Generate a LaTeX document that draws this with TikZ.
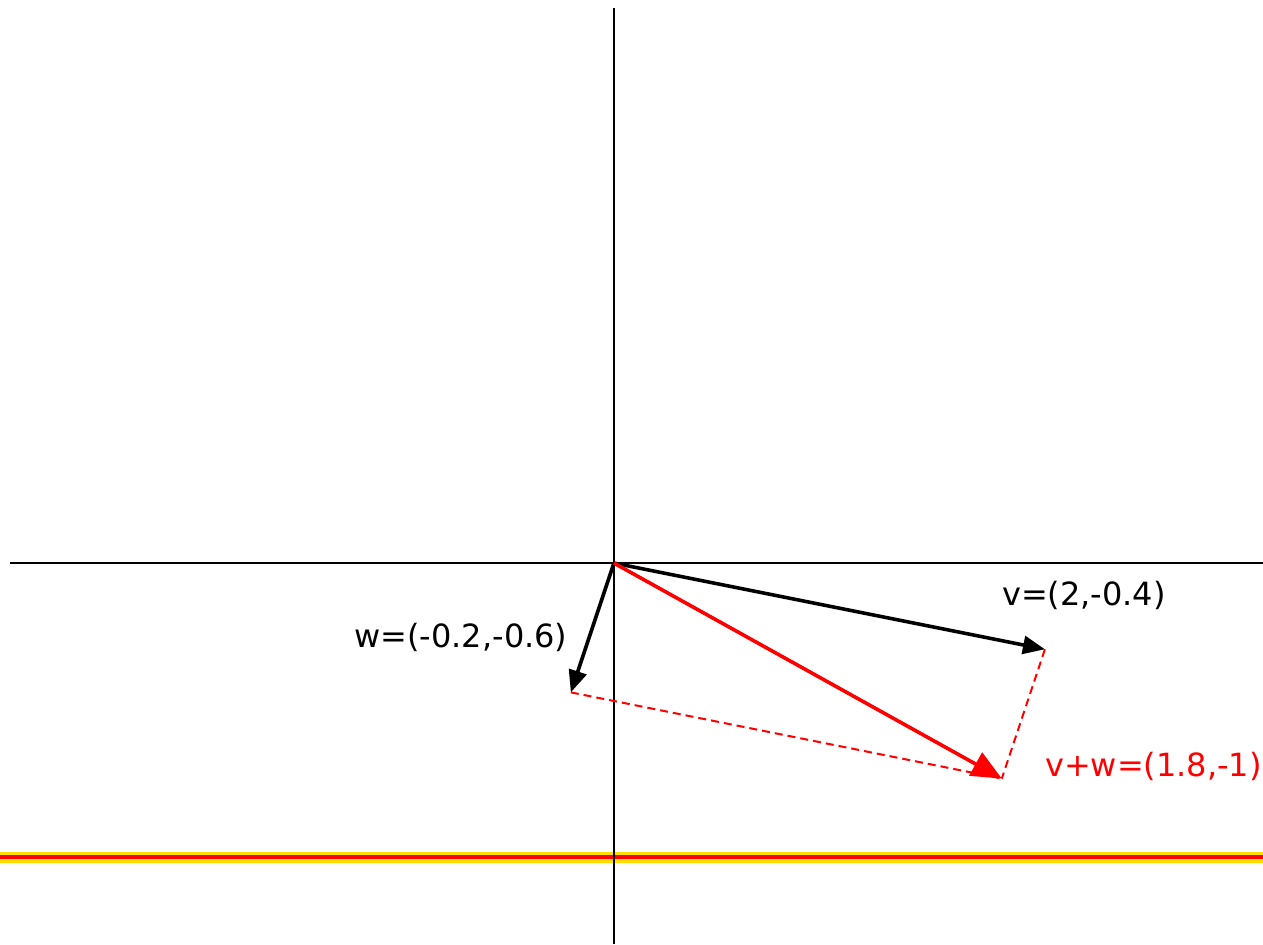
\documentclass[tikz,border=0pt]{standalone}
\usepackage{fontspec}
\setmainfont{DejaVu Sans}
\usepackage{tikz}
\usetikzlibrary{arrows.meta,positioning,calc}
\definecolor{vecred}{HTML}{FF0000}
\definecolor{railgold}{HTML}{FFE000}
\tikzset{
  axis/.style={draw=black,line width=0.75pt},
  vec/.style={-{Triangle[length=11pt,width=9pt]},line width=1.8pt,draw=black},
  sumvec/.style={-{Triangle[length=15pt,width=13pt]},line width=1.8pt,draw=vecred},
  helper/.style={draw=vecred,line width=1pt,dash pattern=on 4pt off 2.5pt},
  lbl/.style={font=\fontsize{16pt}{19pt}\selectfont,inner sep=0pt},
  redlbl/.style={lbl,text=vecred}
}

\begin{document}
\begin{tikzpicture}[x=107.75pt,y=107.75pt]
  \useasboundingbox (-2.849,-1.768) rectangle (3.012,2.613);
  % band
  \coordinate (bl) at (-2.849,-1.364); \coordinate (br) at (3.012,-1.364);
  \draw[draw=railgold,line width=5.5pt] (bl)--(br);
  \draw[draw=vecred,line width=1.6pt] (bl)--(br);
  % axes
  \coordinate (O) at (0,0);
  \coordinate (xl) at (-2.803,0); \coordinate (xr) at (3.012,0);
  \coordinate (yt) at (0,2.575); \coordinate (yb) at (0,-1.768);
  \draw[axis] (xl)--(xr); \draw[axis] (yb)--(yt);
  % vectors
  \coordinate (v) at (2,-0.4);
  \coordinate (w) at (-0.2,-0.6);
  \coordinate (vw) at (1.8,-1);
  \draw[helper] (w)--(vw); \draw[helper] (v)--(vw);
  \draw[vec] (O)--(v); \draw[vec] (O)--(w);
  \draw[sumvec] (O)--(vw);
  % labels
  \node[lbl] (vlab) at (2.181,-0.148) {v=(2,-0.4)};
  \node[lbl] (wlab) at (-0.710,-0.343) {w=(-0.2,-0.6)};
  \node[redlbl,anchor=west] (vwlab) at (1.999,-0.942) {v+w=(1.8,-1)};
\end{tikzpicture}
\end{document}
